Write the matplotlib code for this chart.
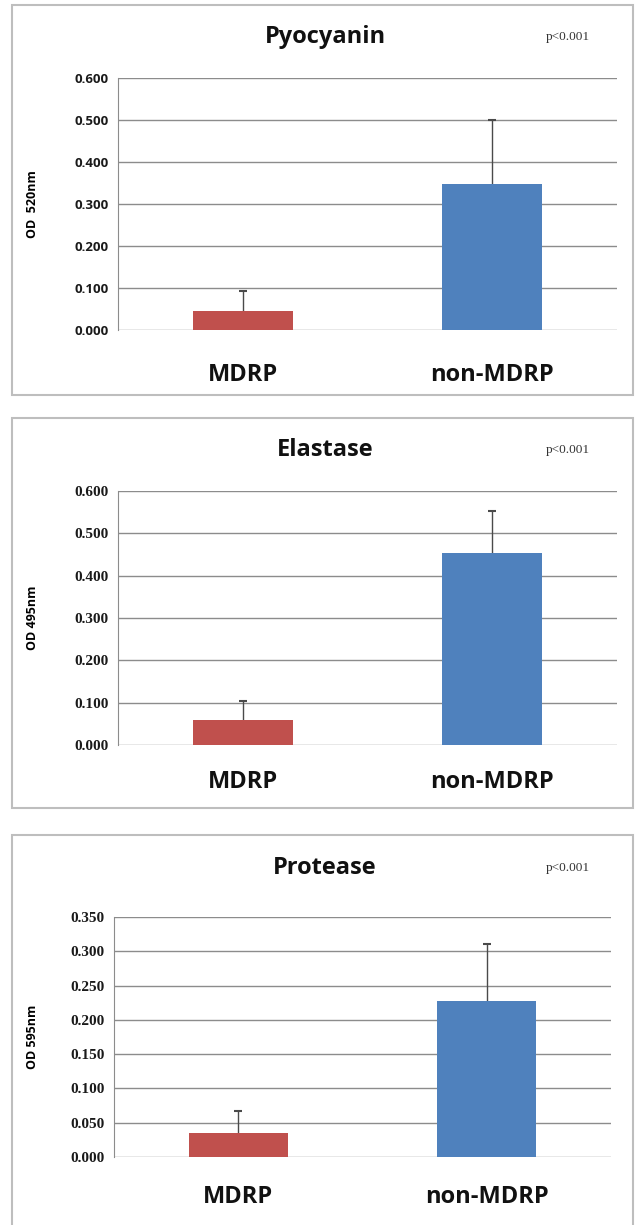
import matplotlib
matplotlib.use("Agg")
import matplotlib.pyplot as plt
from matplotlib.patches import Rectangle
from matplotlib.ticker import FormatStrFormatter

categories = ["MDRP", "non-MDRP"]
titles = ["Pyocyanin", "Elastase", "Protease"]
ylabels = ["OD  520nm", "OD 495nm", "OD 595nm"]
pyocyanin_means = [0.045, 0.348]
pyocyanin_errs = [0.047, 0.152]
elastase_means = [0.060, 0.453]
elastase_errs = [0.043, 0.100]
protease_means = [0.035, 0.228]
protease_errs = [0.032, 0.082]
yticks_list = [
    [0.0, 0.1, 0.2, 0.3, 0.4, 0.5, 0.6],
    [0.0, 0.1, 0.2, 0.3, 0.4, 0.5, 0.6],
    [0.0, 0.05, 0.10, 0.15, 0.20, 0.25, 0.30, 0.35],
]
pvalue = "p<0.001"

means_all = [pyocyanin_means, elastase_means, protease_means]
errs_all = [pyocyanin_errs, elastase_errs, protease_errs]

W, H = 640, 1225
fig = plt.figure(figsize=(W / 100, H / 100), dpi=100)
fig.patch.set_facecolor("white")

# pixel layout: (box_top, box_bottom, ax_left, ax_right, ax_top, ax_bottom, title_y, label_y)
layout = [
    (5, 395, 118, 617, 78, 330, 37, 375),
    (418, 808, 118, 617, 491, 745, 450, 782),
    (835, 1240, 114, 611, 917, 1157, 868, 1197),
]
tick_fonts = ["Open Sans", "Liberation Serif", "Liberation Serif"]
tick_sizes = [9.5, 11, 11]
colors = ["#C0504D", "#4F81BD"]

for i in range(3):
    bt, bb, al, ar, at, ab, ty, ly = layout[i]
    # panel border
    fig.patches.append(Rectangle((12 / W, 1 - bb / H), (633 - 12) / W, (bb - bt) / H,
                                 transform=fig.transFigure, fill=False,
                                 edgecolor="#BEBEBE", linewidth=1.5, zorder=0))
    ax = fig.add_axes([al / W, 1 - ab / H, (ar - al) / W, (ab - at) / H])
    x = [0, 1]
    ax.bar(x, means_all[i], width=0.4, color=colors, zorder=3)
    cont = ax.errorbar(x, means_all[i], yerr=[[0, 0], errs_all[i]], fmt="none",
                       ecolor="#4A4A4A", elinewidth=1, capsize=3, capthick=1.5, zorder=2)
    caps = cont.lines[1]
    if len(caps) == 2:
        caps[0].set_visible(False)
    ax.set_xlim(-0.5, 1.5)
    yt = yticks_list[i]
    ax.set_ylim(0, yt[-1])
    ax.set_yticks(yt)
    ax.yaxis.set_major_formatter(FormatStrFormatter("%.3f"))
    ax.grid(axis="y", color="#8C8C8C", linewidth=1, zorder=1)
    ax.set_axisbelow(True)
    for s in ["top", "right", "bottom"]:
        ax.spines[s].set_visible(False)
    ax.spines["left"].set_color("#8C8C8C")
    ax.tick_params(axis="y", length=0, pad=7)
    ax.tick_params(axis="x", length=0)
    ax.set_xticks([])
    for lab in ax.get_yticklabels():
        lab.set_fontfamily(tick_fonts[i])
        lab.set_fontweight("bold")
        lab.set_fontsize(tick_sizes[i])
        lab.set_color("#1A1A1A")
    # category labels
    for xi, c in zip(x, categories):
        cx = (al + (ar - al) * (xi + 0.5) / 2.0) / W
        fig.text(cx, 1 - ly / H, c, ha="center", va="center", fontsize=17,
                 fontfamily="Open Sans", fontweight="bold", color="#111111")
    fig.text(325 / W, 1 - ty / H, titles[i], ha="center", va="center", fontsize=17,
             fontfamily="Open Sans", fontweight="bold", color="#111111")
    fig.text(568 / W, 1 - ty / H, pvalue, ha="center", va="center", fontsize=9.5,
             fontfamily="Liberation Serif", color="#333333")
    fig.text(33 / W, 1 - (at + ab) / 2 / H, ylabels[i], ha="center", va="center",
             rotation=90, fontsize=9, fontfamily="Open Sans", fontweight="bold")

fig.savefig("out.png", dpi=100, facecolor="white")
